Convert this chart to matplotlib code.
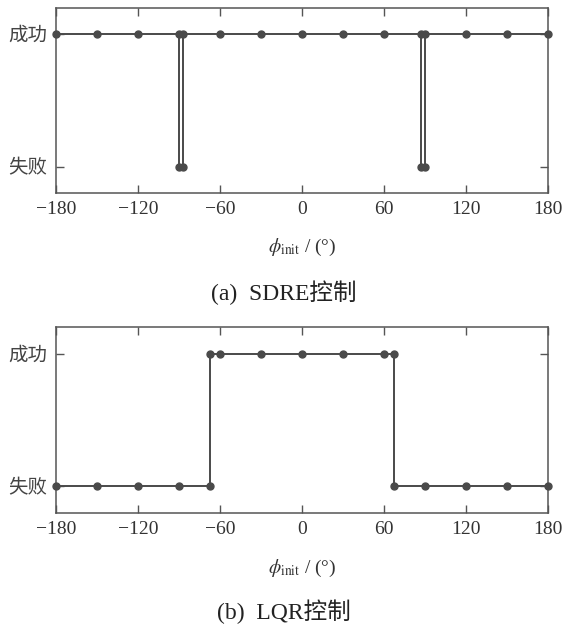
import matplotlib
matplotlib.use("Agg")
import matplotlib.pyplot as plt

plt.rcParams['font.family'] = ['Liberation Serif', 'Noto Sans CJK SC']
plt.rcParams['mathtext.fontset'] = 'stix'

# Data
sdre_phi = [-180, -150, -120, -90, -90, -87, -87, -60, -30, 0, 30, 60, 87, 87, 90, 90, 120, 150, 180]
sdre_ok  = [1, 1, 1, 1, 0, 0, 1, 1, 1, 1, 1, 1, 1, 0, 0, 1, 1, 1, 1]
lqr_phi = [-180, -150, -120, -90, -67, -67, -60, -30, 0, 30, 60, 67, 67, 90, 120, 150, 180]
lqr_ok  = [0, 0, 0, 0, 0, 1, 1, 1, 1, 1, 1, 1, 0, 0, 0, 0, 0]
xticks = [-180, -120, -60, 0, 60, 120, 180]
xticklabels = ['\u2212180', '\u2212120', '\u221260', '0', '60', '120', '180']
ytick_labels = ['失败', '成功']
captions = ['(a)  SDRE控制', '(b)  LQR控制']

fig = plt.figure(figsize=(5.63, 6.31), dpi=100)
W, H = 563, 631
line_c = '#4a4a4a'
spine_c = '#555555'

def make_ax(top_px, bot_px):
    left = 56 / W
    width = 492 / W
    return fig.add_axes([left, (H - bot_px) / H, width, (bot_px - top_px) / H])

axes = [make_ax(8, 193), make_ax(327, 513)]
data = [(sdre_phi, sdre_ok), (lqr_phi, lqr_ok)]
xlabel_y = [247, 568]
cap_y = [293, 612]

for ax, (x, y), xl, cy, cap in zip(axes, data, xlabel_y, cap_y, captions):
    ax.plot(x, y, color=line_c, lw=1.4, marker='o', ms=5, mfc=line_c, mec=line_c,
            clip_on=False, zorder=3)
    ax.set_xlim(-180, 180)
    ax.set_ylim(-0.2, 1.2)
    ax.set_xticks(xticks)
    ax.set_xticklabels(xticklabels, fontsize=14, color='#333333')
    ax.set_yticks([0, 1])
    ax.set_yticklabels(ytick_labels, fontsize=14, color='#444444')
    ax.tick_params(direction='in', top=True, right=True, length=6, width=1,
                   color=spine_c, pad=6)
    for s in ax.spines.values():
        s.set_color(spine_c)
        s.set_linewidth(1.1)
    fig.text(0.5 * (56 + 548) / W, 1 - xl / H, r'$\phi_{\mathrm{init}}$ / (°)',
             ha='center', va='center', fontsize=14, color='#333333')
    fig.text(284 / W, 1 - cy / H, cap,
             ha='center', va='center', fontsize=17, color='#222222')

fig.savefig('out.png', dpi=100)
